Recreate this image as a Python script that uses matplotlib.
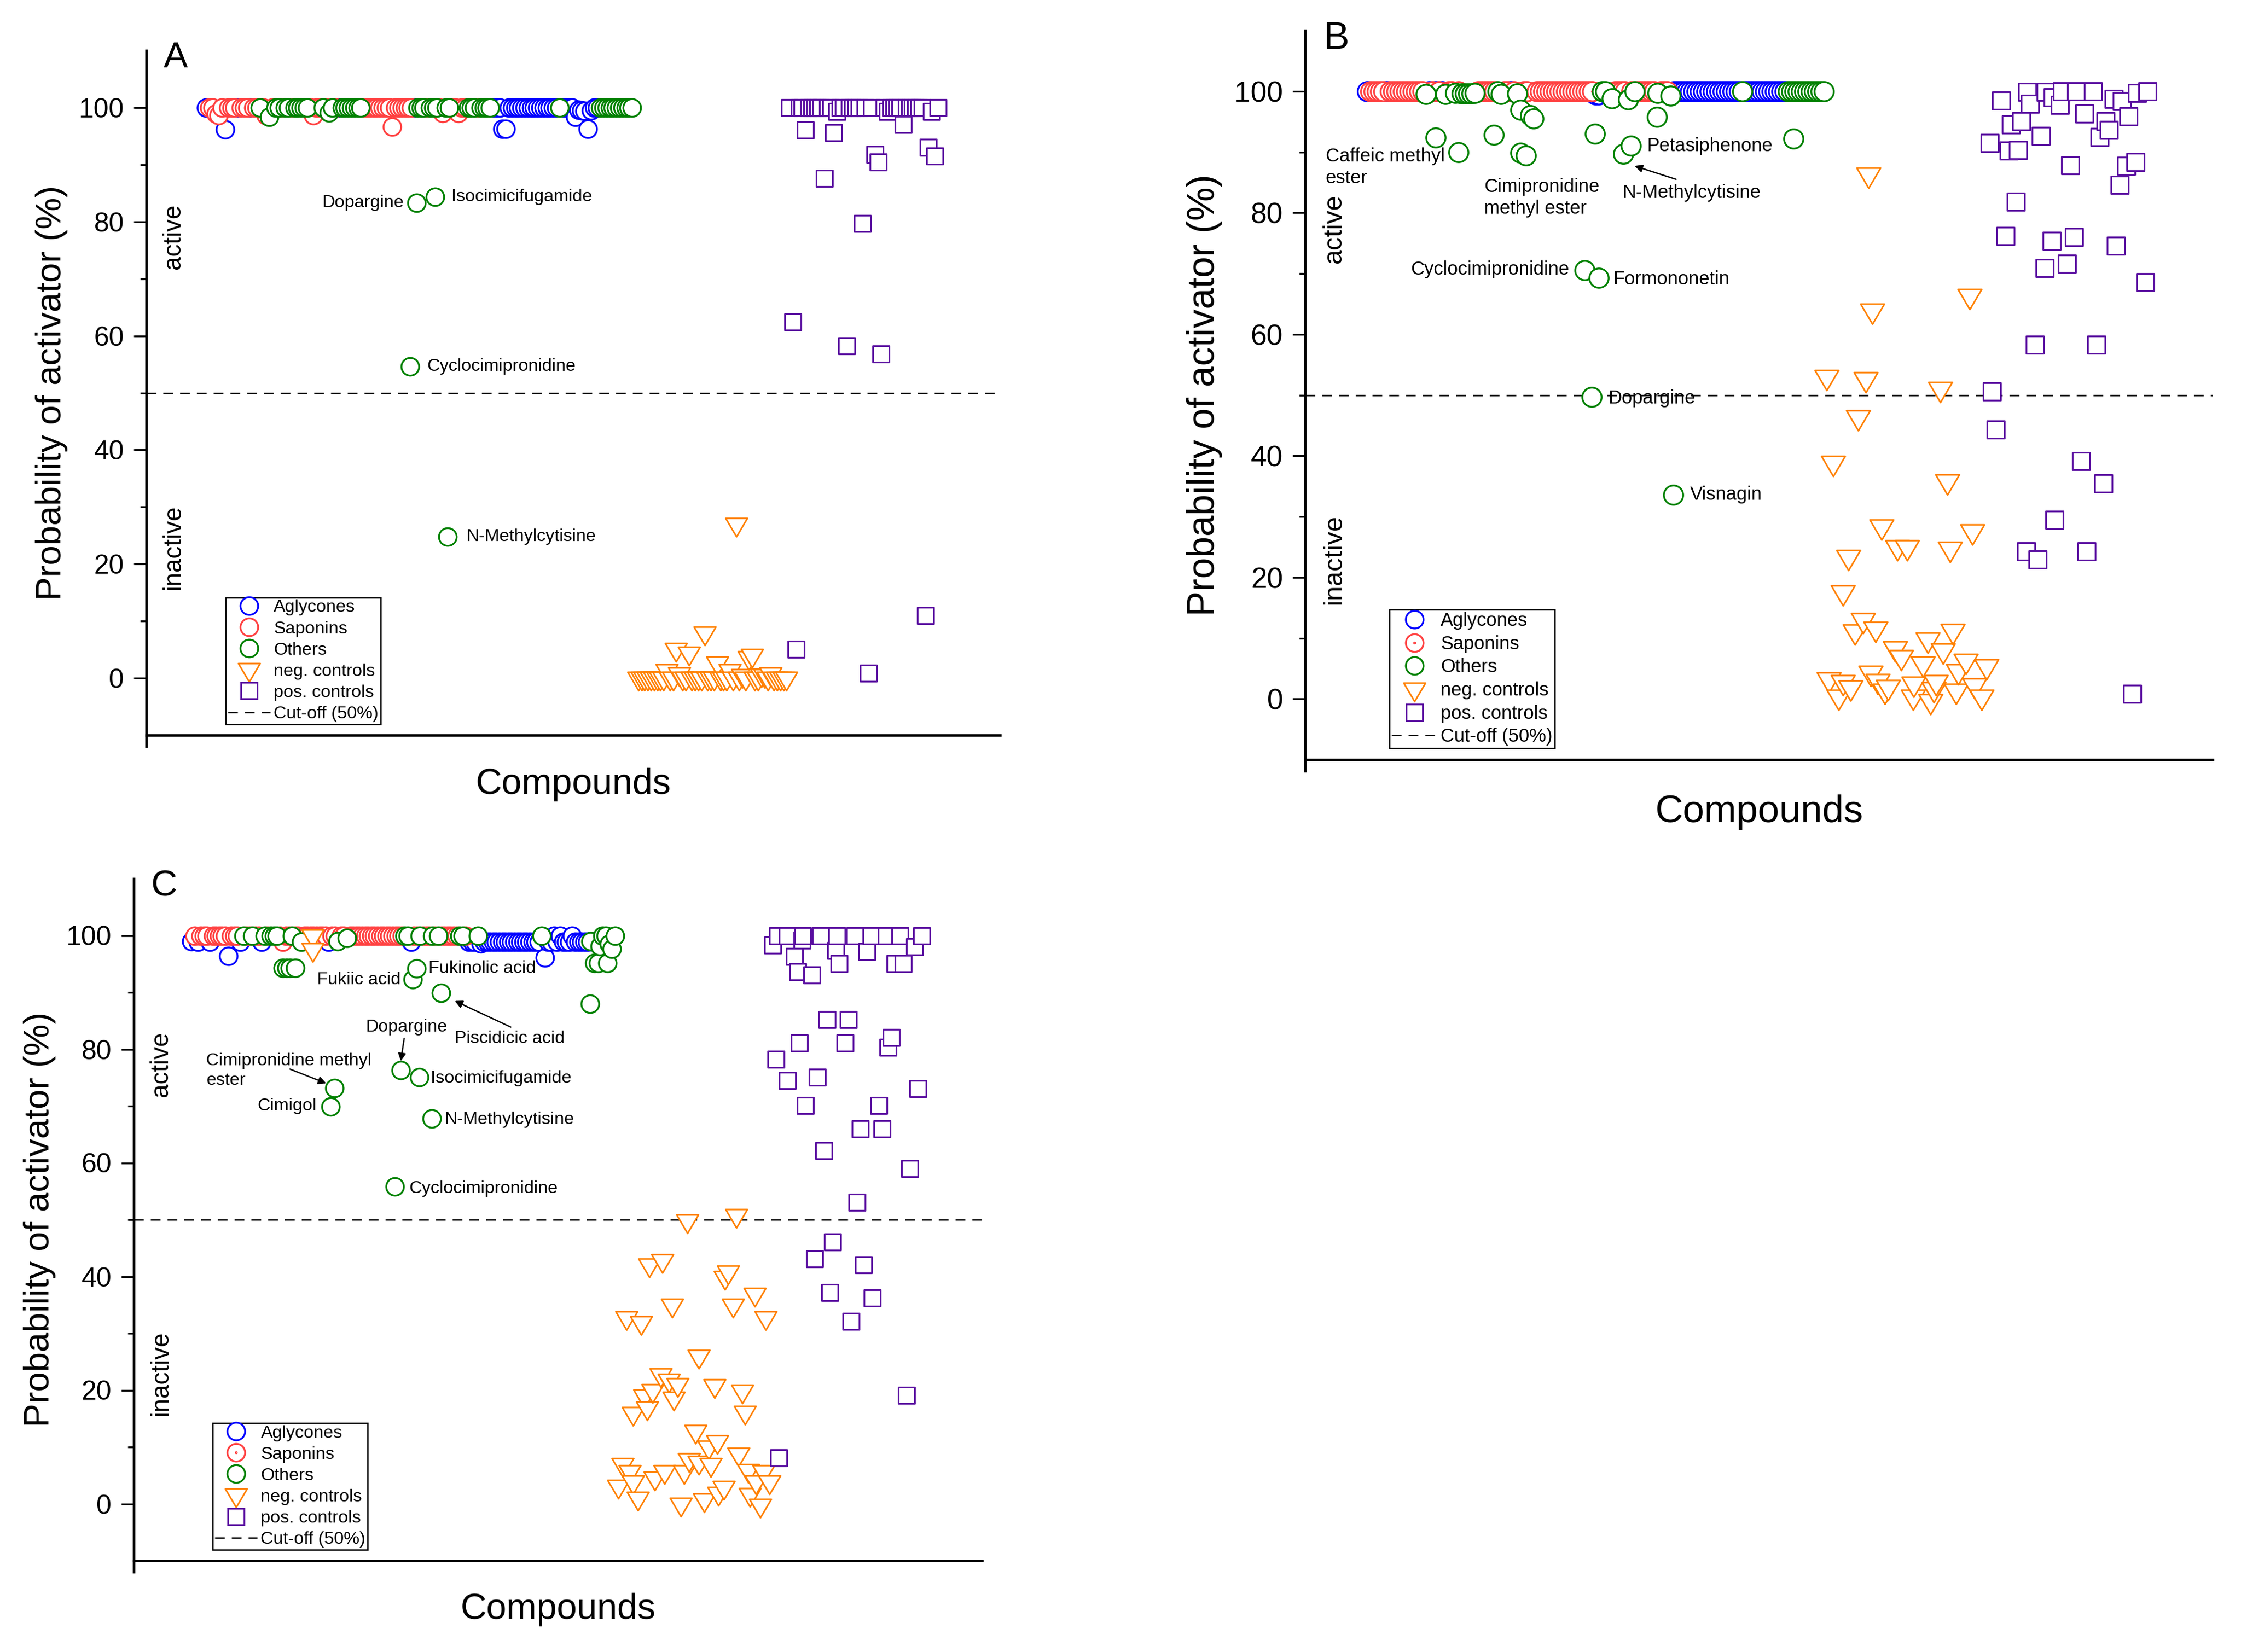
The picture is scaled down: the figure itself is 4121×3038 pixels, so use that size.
import numpy as np
import matplotlib
matplotlib.use("Agg")
import matplotlib.pyplot as plt
from matplotlib.path import Path
from matplotlib.lines import Line2D
from matplotlib.ticker import FixedLocator
import matplotlib.transforms as mtransforms

plt.rcParams['font.family'] = ['Liberation Sans', 'DejaVu Sans']
plt.rcParams['lines.scale_dashes'] = False

# ============================ DATA ============================
# compound classes along the top row: A = Aglycones, S = Saponins, O = Others
# ---------------- Panel A ----------------
A_row_start = 19
A_row_class = ("ASSSSSASSS" "ASSSASSOSS" "OSOOSOOSOO" "OOOSSSSOSO" "OSAOOOOOOO"
               "SSSSSSSSSS" "SSSSSSAOOO" "SOOOSSOOSS" "SSSOOOSOOO" "OAAAAAAAAA"
               "AAAAAAAAAA" "AAOAAAAAAA" "AAAAAOOOOO" "OOOOOO")
A_row_prob = [100, 100, 100, 98.9, 98.7, 100, 96.2, 100, 100, 100,
              100, 100, 100, 100, 100, 100, 100, 100, 100, 98.7,
              98.4, 100, 100, 100, 100, 100, 100, 100, 100, 100,
              100, 100, 100, 100, 98.7, 100, 100, 100, 100, 99.1,
              100, 100, 100, 100, 100, 100, 100, 100, 100, 100,
              100, 100, 100, 100, 100, 100, 100, 100, 100, 96.7,
              100, 100, 100, 100, 100, 100, 100, 100, 100, 100,
              100, 100, 100, 100, 100, 99.0, 100, 100, 100, 100,
              99.0, 100, 100, 100, 100, 100, 100, 100, 100, 100,
              100, 100, 100, 100, 96.3, 96.3, 100, 100, 100, 100,
              100, 100, 100, 100, 100, 100, 100, 100, 100, 100,
              100, 100, 100, 100, 100, 100, 100, 98.4, 99.6, 99.5,
              99.4, 96.3, 99.5, 100, 100, 100, 100, 100, 100, 100,
              100, 100, 100, 100, 100, 100]
A_extra_x = [85.7, 91.6, 83.6, 95.5]
A_extra_y = [83.3, 84.4, 54.6, 24.8]
A_neg_x = list(range(156, 204))
A_neg_y = [0, 0, 0, 0, 0, 0, 0, 0, 0, 1.3,
           0, 0, 5.1, 0.8, 0, 0, 4.4, 0, 0, 0,
           0, 7.9, 0, 0, 0, 2.7, 0, 0, 0, 1.3,
           0, 27.0, 0, 0.5, 0, 3.6, 4.0, 0, 0, 0.6,
           0.5, 0, 0.8, 0, 0, 0, 0, 0]
A_pos_x = list(range(204, 252))
A_pos_y = [100, 62.4, 5.1, 100, 100, 96.1, 100, 100, 100, 100,
           100, 87.6, 100, 100, 95.6, 99.3, 100, 100, 58.2, 100,
           100, 100, 100, 79.7, 100, 0.9, 100, 91.8, 90.5, 56.8,
           100, 99.3, 100, 100, 100, 100, 97.0, 100, 100, 100,
           100, 100, 100, 11.0, 93.0, 99.3, 91.5, 100]
A_labels = [("Dopargine", 81.6, 83.3, "right"),
            ("Isocimicifugamide", 96.7, 84.4, "left"),
            ("Cyclocimipronidine", 89.0, 54.6, "left"),
            ("N-Methylcytisine", 101.4, 24.8, "left")]
A_arrows = []

# ---------------- Panel B ----------------
B_row_start = 19
B_row_class = ("ASSSSSASSS" "SSSSSSSSOA" "SASAOSSOSO" "OOOOSSSSSS" "OOSSASOOSS"
               "OOSSSSSSSS" "SSSSSSSSSS" "AAOOAOSSSS" "OSOSSSSSSO" "SSSOAAAAAA"
               "AAAAAAAAAA" "AAAAAOAAAA" "AAAAAAAAAO" "OOOOOOOOOO" "O")
B_row_prob = [100, 100, 100, 100, 100, 100, 100, 100, 100, 100,
              100, 100, 100, 100, 100, 100, 100, 100, 99.5, 100,
              100, 100, 100, 100, 99.5, 100, 100, 99.7, 100, 99.6,
              99.6, 99.6, 99.6, 99.7, 100, 100, 100, 100, 100, 100,
              100, 99.5, 100, 100, 100, 100, 99.6, 96.9, 100, 100,
              96.0, 95.5, 100, 100, 100, 100, 100, 100, 100, 100,
              100, 100, 100, 100, 100, 100, 100, 100, 100, 100,
              99.4, 99.4, 100, 100, 99.4, 98.8, 100, 100, 100, 100,
              98.6, 100, 100, 100, 100, 100, 100, 100, 100, 99.7,
              100, 100, 100, 99.3, 100, 100, 100, 100, 100, 100,
              100, 100, 100, 100, 100, 100, 100, 100, 100, 100,
              100, 100, 100, 100, 100, 100, 100, 100, 100, 100,
              100, 100, 100, 100, 100, 100, 100, 100, 100, 100,
              100, 100, 100, 100, 100, 100, 100, 100, 100, 100,
              100]
B_extra_x = [40.0, 47.0, 57.8, 66.0, 67.7, 88.8, 97.5, 99.8, 107.8, 149.7,
             85.7, 90.0, 87.8, 112.8]
B_extra_y = [92.4, 90.0, 92.8, 89.9, 89.4, 93.0, 89.7, 91.0, 95.8, 92.2,
             70.5, 69.3, 49.7, 33.6]
B_neg_x = [159.8, 160.5, 161.8, 163.5, 164.8, 164.8, 166.5, 167.2, 168.5, 169.5,
           171.0, 171.8, 172.7, 173.3, 173.8, 174.8, 175.5, 176.7, 177.7, 178.7,
           180.8, 181.5, 182.7, 184.5, 186.3, 186.5, 189.3, 190.8, 191.7, 192.7,
           193.3, 194.7, 195.5, 196.8, 197.7, 198.5, 199.5, 200.2, 202.5, 203.7,
           204.5, 205.2, 207.3, 208.8]
B_neg_y = [53.0, 3.2, 38.9, 0.4, 17.6, 2.8, 23.4, 1.9, 11.1, 46.4,
           13.0, 52.6, 86.3, 4.3, 63.9, 11.6, 3.0, 28.4, 1.4, 2.0,
           8.3, 25.0, 6.9, 25.0, 0.4, 2.5, 5.8, 9.8, -0.3, 1.6,
           2.8, 51.0, 8.0, 35.8, 24.7, 11.2, 1.4, 4.6, 6.3, 66.3,
           27.6, 2.3, 0.4, 5.4]
B_pos_x = [209.8, 210.5, 211.7, 213.3, 214.7, 215.7, 216.3, 217.8, 218.5, 219.5,
           221.0, 221.3, 222.2, 223.7, 224.5, 225.5, 226.7, 227.0, 228.8, 229.2,
           229.7, 231.3, 232.0, 233.5, 234.5, 235.7, 236.3, 237.8, 238.8, 239.5,
           241.5, 242.5, 243.5, 244.7, 245.3, 246.3, 247.8, 248.5, 249.7, 250.3,
           251.7, 252.3, 253.5, 254.5, 255.0, 257.5, 258.2]
B_pos_y = [91.5, 50.6, 44.3, 98.5, 76.2, 90.2, 94.5, 81.8, 90.3, 95.1,
           24.3, 99.9, 97.9, 58.3, 22.9, 92.6, 70.9, 99.9, 75.4, 99.0,
           29.5, 97.7, 100, 71.6, 87.8, 76.0, 100, 39.1, 96.3, 24.3,
           100, 58.3, 92.5, 35.5, 95.1, 93.6, 98.7, 74.6, 84.6, 98.4,
           87.7, 95.9, 0.8, 88.3, 99.7, 68.6, 100]
B_labels = [("Caffeic methyl\nester", 6.3, 87.5, "left"),
            ("Cimipronidine\nmethyl ester", 54.8, 82.5, "left"),
            ("N-Methylcytisine", 97.2, 83.3, "left"),
            ("Petasiphenone", 104.7, 91.0, "left"),
            ("Cyclocimipronidine", 81.0, 70.7, "right"),
            ("Formononetin", 94.3, 69.1, "left"),
            ("Dopargine", 92.8, 49.5, "left"),
            ("Visnagin", 118.0, 33.6, "left")]
B_arrows = [((113.7, 85.5), (101.0, 87.7))]

# ---------------- Panel C ----------------
C_row_start = 19
C_row_class = ("ASASSSASSS" "SSASSSAOSS" "OSSAOSOOOS" "SSSOSSOSSS" "SSSSSASSOS"
               "SOSSSSSSSS" "SSSSSSSSSS" "OOASSOSSSO" "SOSSSSSSOO" "SAAAOAAAAA"
               "AAAAAAAAAA" "AAAAAOAAAA" "AAAAAAAAAA" "AOAAOOOOOO")
C_row_prob = [99.0, 100, 98.9, 100, 100, 100, 98.9, 100, 100, 100,
              100, 100, 96.4, 100, 100, 100, 98.9, 100, 100, 100,
              100, 100, 100, 98.9, 100, 100, 100, 100, 100, 100,
              98.9, 100, 100, 100, 100, 100, 98.9, 100, 100, 100,
              100, 100, 100, 100, 100, 98.9, 100, 100, 99.0, 100,
              100, 99.6, 100, 100, 100, 100, 100, 100, 100, 100,
              100, 100, 100, 100, 100, 100, 100, 100, 100, 100,
              100, 100, 98.9, 100, 100, 100, 100, 100, 100, 100,
              100, 100, 100, 100, 100, 100, 100, 100, 100, 100,
              100, 98.9, 98.9, 98.9, 100, 98.6, 98.9, 98.9, 98.9, 98.9,
              98.9, 98.9, 98.9, 98.9, 98.9, 98.9, 98.9, 98.9, 98.9, 98.9,
              98.9, 98.9, 98.9, 98.9, 98.9, 100, 96.1, 98.9, 98.9, 100,
              98.9, 100, 98.9, 98.9, 98.9, 100, 98.9, 98.9, 98.9, 98.9,
              98.9, 99.0, 98.9, 98.9, 98.1, 100, 100, 98.5, 97.7, 100]
C_extra_x = [48.9, 50.2, 51.3, 53.0, 151.3, 152.5, 155.5, 149.8, 91.6, 92.9,
             100.9, 87.7, 93.8, 65.9, 64.6, 97.9, 85.7]
C_extra_y = [94.3, 94.3, 94.3, 94.3, 95.2, 95.2, 95.2, 88.0, 92.3, 94.2,
             89.9, 76.3, 75.1, 73.2, 69.9, 67.8, 55.8]
C_neg_x = [58.8, 58.8, 159.1, 160.5, 161.8, 162.9, 163.9, 163.9, 165.5, 166.6,
           167.7, 168.6, 169.3, 170.4, 171.1, 173.0, 173.6, 174.3, 175.7, 176.8,
           177.3, 178.6, 179.6, 180.7, 181.8, 182.3, 184.5, 185.5, 185.5, 187.3,
           188.8, 189.5, 190.7, 191.6, 192.0, 193.8, 194.1, 195.2, 196.8, 197.9,
           198.6, 199.8, 200.7, 201.8, 202.3, 203.9, 204.3, 205.7, 206.8, 207.5,
           208.8]
C_neg_y = [100.0, 97.6, 3.1, 6.9, 32.8, 5.7, 15.9, 3.9, 1.0, 31.9,
           19.0, 16.9, 42.1, 20.0, 4.5, 22.7, 42.8, 5.7, 21.8, 35.0,
           18.6, 21.0, 0.0, 5.7, 49.8, 7.8, 12.8, 26.0, 7.3, 0.7,
           10.0, 6.9, 20.8, 11.0, 1.9, 2.9, 39.9, 40.8, 35.0, 50.8,
           8.8, 19.9, 16.1, 5.9, 1.7, 36.9, 3.9, -0.2, 5.7, 32.8,
           3.9]
C_pos_x = [209.8, 210.9, 211.4, 211.8, 214.6, 214.6, 217.0, 218.0, 218.6, 219.5,
           219.6, 220.5, 222.7, 223.6, 224.5, 225.5, 226.6, 227.7, 228.6, 229.5,
           230.5, 230.9, 231.6, 233.6, 234.6, 235.5, 236.8, 237.5, 238.6, 239.6,
           240.7, 242.1, 242.5, 244.6, 245.7, 247.1, 247.7, 248.8, 250.0, 251.6,
           252.7, 253.8, 254.8, 256.4, 257.5, 258.8]
C_pos_y = [98.3, 78.2, 100, 8.1, 100, 74.5, 96.3, 93.6, 81.1, 99.2,
           100, 70.1, 93.1, 43.1, 75.1, 100, 62.2, 85.2, 37.2, 46.1,
           97.4, 100, 95.1, 81.1, 85.2, 32.1, 100, 53.1, 66.0, 42.1,
           97.2, 100, 36.2, 70.1, 66.0, 100, 80.3, 82.1, 95.1, 100,
           95.1, 19.1, 59.0, 98.0, 73.1, 100]
C_labels = [("Fukiic acid", 87.7, 92.2, "right"),
            ("Fukinolic acid", 96.8, 94.2, "left"),
            ("Dopargine", 89.6, 83.9, "center"),
            ("Piscidicic acid", 105.4, 81.9, "left"),
            ("Cimipronidine methyl\nester", 23.8, 76.2, "left"),
            ("Cimigol", 60.0, 70.0, "right"),
            ("Isocimicifugamide", 97.5, 74.9, "left"),
            ("N-Methylcytisine", 102.1, 67.6, "left"),
            ("Cyclocimipronidine", 90.5, 55.5, "left")]
C_arrows = [((51.3, 76.5), (63.2, 74.0)),
            ((88.8, 81.9), (87.7, 77.9)),
            ((123.8, 83.9), (105.4, 88.5))]

LEGEND_LABELS = ["Aglycones", "Saponins", "Others", "neg. controls",
                 "pos. controls", "Cut-off (50%)"]
CUTOFF = 50

# ============================ STYLE ============================
BLUE = "#0000FF"
RED = "#FF4040"
GREEN = "#008000"
ORANGE = "#FF8000"
PURPLE = "#5A0FA0"

CIRC_MS = 7.8
TRI_MS = 10.9
SQ_MS = 7.0
MLW = 0.8

TRI = Path([(-20, 11.3), (20, 11.3), (0, -22.7), (0, 0)],
           [Path.MOVETO, Path.LINETO, Path.LINETO, Path.CLOSEPOLY])
SAP_DOT = Path.make_compound_path(Path.unit_circle(), Path.circle((0, 0), 0.06))
DASH = (0, (4.3, 3.1))

W, H = 4121, 3038
fig = plt.figure(figsize=(W / 300, H / 300), dpi=300)
fig.patch.set_facecolor("white")


def px_rect(l, r, t, b):
    return [l / W, 1 - b / H, (r - l) / W, (b - t) / H]


def panel(rect, xmax, k, mk, row_start, row_class, row_prob, ex_x, ex_y,
          neg_x, neg_y, pos_x, pos_y, labels, arrows, letter, dotted):
    ax = fig.add_axes(rect)
    ax.set_xlim(0, xmax)
    ax.set_ylim(-10, 110)
    cls = np.array(list(row_class))
    prob = np.array(row_prob, float)
    xr = row_start + np.arange(len(cls))
    sap_marker = SAP_DOT if dotted else "o"
    cm, tm, sm = CIRC_MS * mk, TRI_MS * mk, SQ_MS * mk

    ax.scatter(xr[cls == "A"], prob[cls == "A"], s=cm ** 2, marker="o",
               facecolors="white", edgecolors=BLUE, linewidths=MLW, zorder=3)
    ax.scatter(xr[cls == "S"], prob[cls == "S"], s=cm ** 2, marker=sap_marker,
               facecolors="white", edgecolors=RED, linewidths=MLW, zorder=4)
    ox = np.concatenate([xr[cls == "O"], np.array(ex_x, float)])
    oy = np.concatenate([prob[cls == "O"], np.array(ex_y, float)])
    o = np.argsort(ox, kind="stable")
    ax.scatter(ox[o], oy[o], s=cm ** 2, marker="o",
               facecolors="white", edgecolors=GREEN, linewidths=MLW, zorder=5)
    ax.scatter(neg_x, neg_y, s=tm ** 2, marker=TRI,
               facecolors="white", edgecolors=ORANGE, linewidths=0.7, zorder=6)
    ax.scatter(pos_x, pos_y, s=sm ** 2, marker="s",
               facecolors="white", edgecolors=PURPLE, linewidths=0.75, zorder=7)
    ax.axhline(CUTOFF, color="black", lw=0.6, ls=DASH, zorder=2)

    for sp in ("top", "right"):
        ax.spines[sp].set_visible(False)
    for sp in ("left", "bottom"):
        ax.spines[sp].set_linewidth(1.1)
    ax.set_yticks([0, 20, 40, 60, 80, 100])
    ax.yaxis.set_minor_locator(FixedLocator([10, 30, 50, 70, 90]))
    ax.tick_params(axis="y", which="major", direction="out", length=5.5,
                   width=0.8, labelsize=12 * k, pad=4.3)
    ax.tick_params(axis="y", which="minor", direction="out", length=2.6, width=0.8)
    ax.set_xticks([0])
    ax.set_xticklabels([""])
    ax.tick_params(axis="x", which="major", direction="out", length=5.5, width=1.1)

    ax.text(-0.111, 0.5, "Probability of activator (%)", transform=ax.transAxes,
            rotation=90, ha="center", va="center", fontsize=15.7 * k)
    ax.text(0.5, -0.072, "Compounds", transform=ax.transAxes,
            ha="center", va="center", fontsize=16 * k)
    ax.text(0.02, 0.975, letter, transform=ax.transAxes,
            ha="left", va="baseline", fontsize=16 * k)
    tr = mtransforms.blended_transform_factory(ax.transAxes, ax.transData)
    ax.text(0.032, 77.4, "active", transform=tr, rotation=90,
            ha="center", va="center", fontsize=11 * k)
    ax.text(0.032, 23.0, "inactive", transform=tr, rotation=90,
            ha="center", va="center", fontsize=11 * k)

    for txt, x, y, ha in labels:
        ax.text(x, y, txt, ha=ha, va="center", fontsize=7.8 * k,
                linespacing=1.25, zorder=8)
    for tail, head in arrows:
        ax.annotate("", xy=head, xytext=tail,
                    arrowprops=dict(arrowstyle="-|>", color="black", lw=0.6,
                                    mutation_scale=7, shrinkA=0, shrinkB=0),
                    zorder=8)

    handles = [
        Line2D([], [], ls="none", marker="o", ms=CIRC_MS, mfc="white", mec=BLUE, mew=MLW),
        Line2D([], [], ls="none", marker=sap_marker, ms=CIRC_MS, mfc="white", mec=RED, mew=MLW),
        Line2D([], [], ls="none", marker="o", ms=CIRC_MS, mfc="white", mec=GREEN, mew=MLW),
        Line2D([], [], ls="none", marker=TRI, ms=TRI_MS, mfc="white", mec=ORANGE, mew=0.7),
        Line2D([], [], ls="none", marker="s", ms=SQ_MS, mfc="white", mec=PURPLE, mew=0.75),
        Line2D([], [], color="black", lw=0.6, ls=DASH),
    ]
    leg = ax.legend(handles, LEGEND_LABELS, loc="lower left",
                    bbox_to_anchor=(0.093, 0.016), borderaxespad=0,
                    fontsize=7.8 * k, frameon=True, fancybox=False,
                    edgecolor="black", framealpha=1, borderpad=0.12,
                    handlelength=2.4, handletextpad=0.2, labelspacing=0.28)
    leg.get_frame().set_linewidth(0.6)
    leg.set_zorder(10)
    return ax


panel(px_rect(269, 1839, 93, 1352), 270.7, 1.0, 1.0, A_row_start, A_row_class, A_row_prob,
      A_extra_x, A_extra_y, A_neg_x, A_neg_y, A_pos_x, A_pos_y,
      A_labels, A_arrows, "A", False)
panel(px_rect(2400, 4069, 56, 1397), 278.2, 1.065, 1.09, B_row_start, B_row_class, B_row_prob,
      B_extra_x, B_extra_y, B_neg_x, B_neg_y, B_pos_x, B_pos_y,
      B_labels, B_arrows, "B", True)
panel(px_rect(246, 1806, 1616, 2870), 278.6, 1.0, 1.0, C_row_start, C_row_class, C_row_prob,
      C_extra_x, C_extra_y, C_neg_x, C_neg_y, C_pos_x, C_pos_y,
      C_labels, C_arrows, "C", True)

fig.savefig("out.png", dpi=300, facecolor="white")
